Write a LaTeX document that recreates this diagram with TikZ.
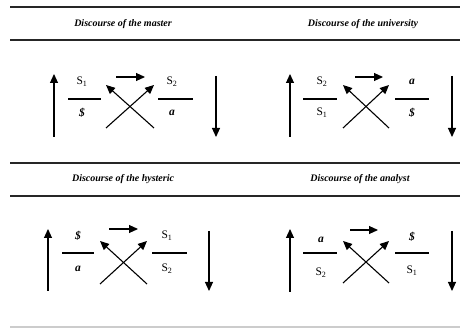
\documentclass[tikz,border=0pt]{standalone}
\usepackage{fontspec}
\setmainfont{Liberation Serif}
\usetikzlibrary{arrows.meta}

\tikzset{%
  rule/.style ={line width=1.6pt, black!85},
  bar/.style  ={line width=1.4pt},
  flow/.style ={line width=1.1pt, -{Triangle[length=9pt,width=8pt]}},
  title/.style={font=\fontsize{10}{12}\selectfont\itshape\bfseries, inner sep=0pt},
  term/.style ={font=\fontsize{11.5}{13}\selectfont, inner sep=0pt},
}
\newcommand{\barS}{\textbf{\textit{\$}}}
\newcommand{\sig}[1]{S\textsubscript{#1}}

\begin{document}
\begin{tikzpicture}[x=1pt, y=-1pt]
  \useasboundingbox (0,0) rectangle (460,328);
  % rules
  \draw[rule] (10,7) -- (460,7);
  \draw[rule] (10,40) -- (460,40);
  \draw[rule] (10,163) -- (460,163);
  \draw[rule] (10,196) -- (460,196);
  \draw[line width=1.2pt, black!20] (10,327) -- (460,327);
  % titles
  \node[title] (tm) at (123,24) {Discourse of the master};
  \node[title] (tu) at (363,24) {Discourse of the university};
  \node[title] (th) at (123,179) {Discourse of the hysteric};
  \node[title] (ta) at (360,179) {Discourse of the analyst};

  % master
  \node[term] (m1) at (82,82) {\sig{1}};
  \node[term] (m2) at (82,113) {\barS};
  \node[term] (m3) at (172,82) {\sig{2}};
  \node[term] (m4) at (172,113) {\textbf{\textit{a}}};
  \coordinate (mu0) at (54,137);  \coordinate (mu1) at (54,74);
  \coordinate (md0) at (216,76);  \coordinate (md1) at (216,137);
  \coordinate (mh0) at (116,77);  \coordinate (mh1) at (145,77);
  \coordinate (mbl) at (106,128); \coordinate (mtr) at (154,85);
  \coordinate (mbr) at (154,128); \coordinate (mtl) at (106,85);
  \coordinate (mb0) at (68,99);   \coordinate (mb1) at (101,99);
  \coordinate (mc0) at (158,99);  \coordinate (mc1) at (193,99);

  % university
  \node[term] (u1) at (322,82) {\sig{2}};
  \node[term] (u2) at (322,113) {\sig{1}};
  \node[term] (u3) at (412,82) {\textbf{\textit{a}}};
  \node[term] (u4) at (412,113) {\barS};
  \coordinate (uu0) at (290,137); \coordinate (uu1) at (290,74);
  \coordinate (ud0) at (452,76);  \coordinate (ud1) at (452,137);
  \coordinate (uh0) at (355,77);  \coordinate (uh1) at (383,77);
  \coordinate (ubl) at (343,128); \coordinate (utr) at (389,85);
  \coordinate (ubr) at (389,128); \coordinate (utl) at (343,85);
  \coordinate (ub0) at (303,99);  \coordinate (ub1) at (337,99);
  \coordinate (uc0) at (395,99);  \coordinate (uc1) at (429,99);

  % hysteric
  \node[term] (h1) at (78,236) {\barS};
  \node[term] (h2) at (78,269) {\textbf{\textit{a}}};
  \node[term] (h3) at (167,236) {\sig{1}};
  \node[term] (h4) at (167,269) {\sig{2}};
  \coordinate (hu0) at (48,291);  \coordinate (hu1) at (48,229);
  \coordinate (hd0) at (209,231); \coordinate (hd1) at (209,291);
  \coordinate (hh0) at (109,229); \coordinate (hh1) at (138,229);
  \coordinate (hbl) at (100,284); \coordinate (htr) at (147,241);
  \coordinate (hbr) at (147,284); \coordinate (htl) at (100,241);
  \coordinate (hb0) at (62,253);  \coordinate (hb1) at (94,253);
  \coordinate (hc0) at (152,253); \coordinate (hc1) at (187,253);

  % analyst
  \node[term] (a1) at (321,240) {\textbf{\textit{a}}};
  \node[term] (a2) at (321,273) {\sig{2}};
  \node[term] (a3) at (412,237) {\barS};
  \node[term] (a4) at (412,271) {\sig{1}};
  \coordinate (au0) at (290,292); \coordinate (au1) at (290,229);
  \coordinate (ad0) at (452,231); \coordinate (ad1) at (452,291);
  \coordinate (ah0) at (350,230); \coordinate (ah1) at (378,230);
  \coordinate (abl) at (343,283); \coordinate (atr) at (389,241);
  \coordinate (abr) at (389,283); \coordinate (atl) at (343,241);
  \coordinate (ab0) at (303,253); \coordinate (ab1) at (337,253);
  \coordinate (ac0) at (395,253); \coordinate (ac1) at (429,253);

  \draw[bar] (mb0) -- (mb1);  \draw[bar] (mc0) -- (mc1);
  \draw[bar] (ub0) -- (ub1);  \draw[bar] (uc0) -- (uc1);
  \draw[bar] (hb0) -- (hb1);  \draw[bar] (hc0) -- (hc1);
  \draw[bar] (ab0) -- (ab1);  \draw[bar] (ac0) -- (ac1);
  \draw[flow] (mu0) -- (mu1); \draw[flow] (md0) -- (md1);
  \draw[flow] (mh0) -- (mh1);
  \draw[flow] (mbl) -- (mtr); \draw[flow] (mbr) -- (mtl);
  \draw[flow] (uu0) -- (uu1); \draw[flow] (ud0) -- (ud1);
  \draw[flow] (uh0) -- (uh1);
  \draw[flow] (ubl) -- (utr); \draw[flow] (ubr) -- (utl);
  \draw[flow] (hu0) -- (hu1); \draw[flow] (hd0) -- (hd1);
  \draw[flow] (hh0) -- (hh1);
  \draw[flow] (hbl) -- (htr); \draw[flow] (hbr) -- (htl);
  \draw[flow] (au0) -- (au1); \draw[flow] (ad0) -- (ad1);
  \draw[flow] (ah0) -- (ah1);
  \draw[flow] (abl) -- (atr); \draw[flow] (abr) -- (atl);
\end{tikzpicture}
\end{document}
